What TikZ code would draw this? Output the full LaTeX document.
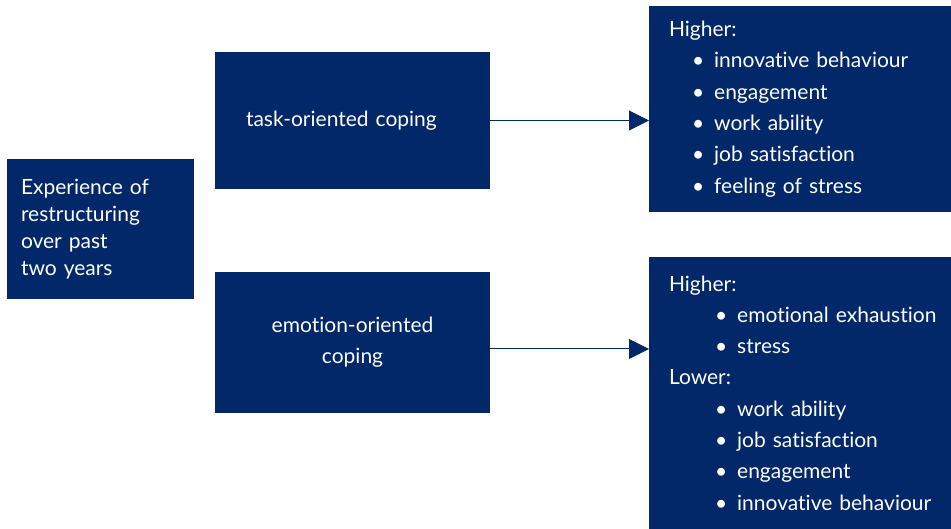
\documentclass[tikz,border=0pt]{standalone}
\usepackage{fontspec}
\setmainfont{Lato}[Ligatures={NoCommon}]
\usetikzlibrary{arrows.meta,calc}
\definecolor{boxColor}{HTML}{03286A}
\newcommand{\itm}[2][23pt]{\mbox{\hspace*{#1}\textbullet\hspace{10pt}#2}}
\begin{document}
\begin{tikzpicture}[x=1pt,y=-1pt,>={Triangle[length=20pt,width=20pt]},line width=1pt,
				box/.style={fill=boxColor,text=white,inner sep=0pt,outer sep=0pt,anchor=north west},
				list/.style={box,minimum width=302pt,text width=262pt,align=left,font=\fontsize{21}{31.3}\selectfont}]
	\useasboundingbox (0,0) rectangle (951,529);
	\node[box, minimum width=187pt, minimum height=140pt, text width=159pt, align=left,
		font=\fontsize{21}{27}\selectfont] (exp) at (7,159) {Experience of\\ restructuring\\ over past\\ two years};
	\node[box, minimum width=275pt, minimum height=137pt, inner xsep=31pt, text width=213pt, align=left,
		font=\fontsize{21}{31}\selectfont] (task) at (215,52) {task-oriented coping};
	\node[box, minimum width=275pt, minimum height=141pt, align=center,
		font=\fontsize{21}{31}\selectfont] (emo) at (215,272) {emotion-oriented\\ coping};
	\node[list, minimum height=206pt] (hi) at (649,6) {Higher:\\
		\itm{innovative behaviour}\\ \itm{engagement}\\ \itm{work ability}\\
		\itm{job satisfaction}\\ \itm{feeling of stress}};
	\node[list, minimum height=272pt] (lo) at (649,257) {Higher:\\
		\itm[46pt]{emotional exhaustion}\\ \itm[46pt]{stress}\\ Lower:\\
		\itm[46pt]{work ability}\\ \itm[46pt]{job satisfaction}\\
		\itm[46pt]{engagement}\\ \itm[46pt]{innovative behaviour}};
	
	%\draw[->, boxColor] (task.east) -- (hi.west);
	\draw[->, boxColor] (task.east) -- (task.east -| hi.west);
	\draw[->, boxColor] ([yshift=-6.5pt]emo.east) -- ([yshift=-6.5pt]emo.east -| lo.west);
\end{tikzpicture}
\end{document}
